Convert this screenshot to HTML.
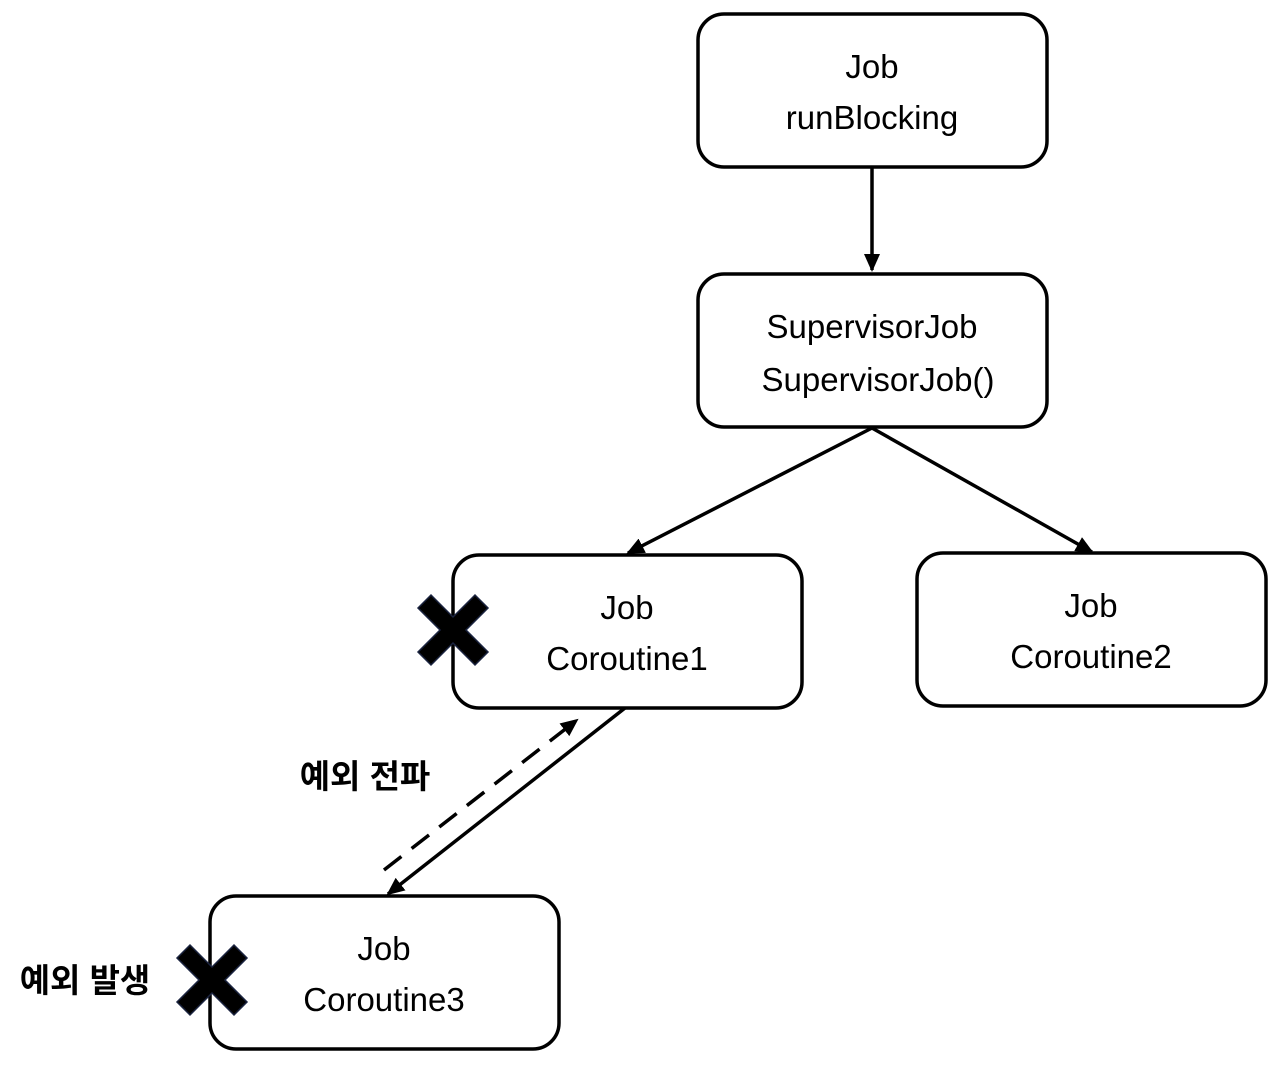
<!DOCTYPE html>
<html><head><meta charset="utf-8"><style>
html,body{margin:0;padding:0;background:#fff;}
svg{display:block;}
text{font-family:"Liberation Sans","Noto Sans CJK KR",sans-serif;fill:#000;}
</style></head><body>
<svg width="1280" height="1067" viewBox="0 0 1280 1067" xmlns="http://www.w3.org/2000/svg">
<defs>
<marker id="ah" markerWidth="10" markerHeight="10" refX="8" refY="5" orient="auto" markerUnits="userSpaceOnUse">
<path d="M0,0 L10,5 L0,10 z" fill="#000"/>
</marker>
<marker id="ah2" markerWidth="18" markerHeight="16" refX="16" refY="8" orient="auto" markerUnits="userSpaceOnUse">
<path d="M0,0 L18,8 L0,16 z" fill="#000"/>
</marker>
<polygon id="x" points="-35,-22 -22,-35 0,-13 22,-35 35,-22 13,0 35,22 22,35 0,13 -22,35 -35,22 -13,0" fill="#000" stroke="#1b2440" stroke-width="1.5"/>
</defs>
<g fill="#fff" stroke="#000" stroke-width="3.5">
<rect x="698" y="14" width="349" height="153" rx="26"/>
<rect x="698" y="274" width="349" height="153" rx="26"/>
<rect x="453" y="555" width="349" height="153" rx="26"/>
<rect x="917" y="553" width="349" height="153" rx="26"/>
<rect x="210" y="896" width="349" height="153" rx="26"/>
</g>
<g stroke="#000" stroke-width="3.5" fill="none">
<line x1="872" y1="167" x2="872" y2="270" marker-end="url(#ah2)"/>
<line x1="872" y1="428" x2="628" y2="553" marker-end="url(#ah2)"/>
<line x1="872" y1="428" x2="1092" y2="552" marker-end="url(#ah2)"/>
<line x1="625" y1="708" x2="388" y2="894" marker-end="url(#ah2)"/>
<line x1="384" y1="870" x2="577" y2="720" stroke-dasharray="22,13" marker-end="url(#ah2)"/>
</g>
<g font-size="33" text-anchor="middle">
<text x="872" y="78">Job</text>
<text x="872" y="129">runBlocking</text>
<text x="872" y="338">SupervisorJob</text>
<text x="878" y="391">SupervisorJob()</text>
<text x="627" y="619">Job</text>
<text x="627" y="670">Coroutine1</text>
<text x="1091" y="617">Job</text>
<text x="1091" y="668">Coroutine2</text>
<text x="384" y="960">Job</text>
<text x="384" y="1011">Coroutine3</text>
</g>
<use href="#x" x="453" y="630"/>
<use href="#x" x="212" y="980"/>
<g font-size="33" font-weight="bold" text-anchor="middle">
<text x="365" y="788">예외 전파</text>
<text x="85" y="992">예외 발생</text>
</g>
</svg>
</body></html>
